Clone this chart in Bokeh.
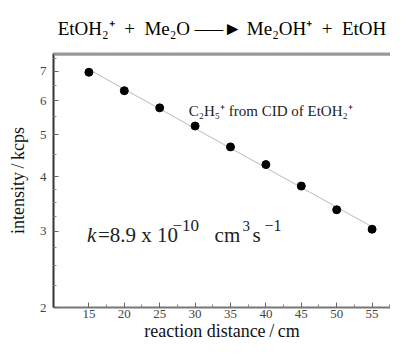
import numpy as np
from bokeh.plotting import figure
from bokeh.models import FixedTicker, BasicTickFormatter, Label, LinearAxis, Range1d, Span
from bokeh.embed import file_html
from bokeh.resources import INLINE

# data
distance_cm = [15, 20, 25, 30, 35, 40, 45, 50, 55]
intensity_kcps = [6.97, 6.32, 5.77, 5.24, 4.69, 4.27, 3.81, 3.36, 3.03]

x_major = [15, 20, 25, 30, 35, 40, 45, 50, 55]
x_minor = [17.5, 22.5, 27.5, 32.5, 37.5, 42.5, 47.5, 52.5, 57.5]
y_major = [2, 3, 4, 5, 6, 7]
y_minor = [2.25, 2.5, 2.75, 3.25, 3.5, 3.75, 4.5, 5.5, 6.5, 7.5]

x_lo, x_hi = 10, 57.6
y_lo, y_hi = 2, 7.7

NB = "\u00a0"
GAP = NB * 2
title_text = ("EtOH\u2082\u207A" + GAP + "+" + GAP + "Me\u2082O" + NB +
              "\u2014\u2013\u25BA" + NB + "Me\u2082OH\u207A" + GAP + "+" + GAP + "EtOH")
note_text = "C\u2082H\u2085\u207A from CID of EtOH\u2082\u207A"

# rate-constant text pieces: (text, x in cm, raised?, size, style)
k_y = 2.94
k_pieces = [
    ("k", 14.72, False, "21px", "italic"),
    ("=8.9 x 10", 16.27, False, "21px", "normal"),
    ("\u221210", 26.8, True, "17px", "normal"),
    ("cm", 32.75, False, "21px", "normal"),
    ("3", 36.7, True, "15px", "normal"),
    ("s", 38.1, False, "21px", "normal"),
    ("\u22121", 39.8, True, "16px", "normal"),
]

SERIF = "Liberation Serif"

p = figure(width=390, height=343, y_axis_type="log",
           x_range=Range1d(x_lo, x_hi), y_range=Range1d(y_lo, y_hi),
           output_backend="svg", toolbar_location=None,
           min_border_left=53, min_border_right=0,
           min_border_top=53, min_border_bottom=31,
           title=title_text)
p.title.align = "center"
p.title.offset = 3
p.title.text_font = SERIF
p.title.text_font_size = "19px"
p.title.text_font_style = "normal"
p.title.text_color = "black"
p.title.standoff = 30

p.grid.visible = False
p.outline_line_color = None
p.background_fill_color = "white"
p.border_fill_color = "white"

xax = p.below[0]
yax = p.left[0]

# top border: a bare axis line plus a span just inside the frame
top_axis = LinearAxis(axis_line_color="#999999", axis_line_width=2,
                      major_tick_line_color=None, minor_tick_line_color=None,
                      major_label_text_font_size="0px", major_label_standoff=0,
                      major_tick_out=0, major_tick_in=0)
top_axis.ticker = FixedTicker(ticks=[])
p.add_layout(top_axis, "above")
p.add_layout(Span(location=y_hi / 10 ** (1.2 / 445), dimension="width",
                  line_color="#999999", line_width=2))

# fitted line (log-linear least squares)
slope, intercept = np.polyfit(np.array(distance_cm, float), np.log10(intensity_kcps), 1)
fx = np.array([distance_cm[0], distance_cm[-1]], float)
fy = 10 ** (intercept + slope * fx)
p.line(fx, fy, line_color="#bbbbbb", line_width=1)

p.scatter(distance_cm, intensity_kcps, size=8, color="black")

# axes
for ax in (xax, yax):
    ax.major_tick_in = 5
    ax.major_tick_out = 0
    ax.minor_tick_in = 3
    ax.minor_tick_out = 0
    ax.major_label_text_font = SERIF
    ax.major_label_text_font_size = "13px"
    ax.major_label_text_color = "#444444"
    ax.axis_label_text_font = SERIF
    ax.axis_label_text_font_size = "18px"
    ax.axis_label_text_font_style = "normal"
    ax.axis_label_text_color = "#111111"
    ax.major_tick_line_color = "#666666"
    ax.minor_tick_line_color = "#888888"
    ax.formatter = BasicTickFormatter()

xax.ticker = FixedTicker(ticks=x_major, minor_ticks=x_minor)
yax.ticker = FixedTicker(ticks=y_major, minor_ticks=y_minor)
xax.axis_line_color = "#777777"
xax.axis_line_width = 2
yax.axis_line_color = "#333333"
yax.axis_line_width = 2
xax.major_label_standoff = 2
yax.major_label_standoff = 7
xax.axis_label = "reaction distance\u2009/\u2009cm"
yax.axis_label = "intensity\u2009/\u2009kcps"
xax.axis_label_standoff = 0
yax.axis_label_standoff = 9

# annotations
p.add_layout(Label(x=29.1, y=5.66, text=note_text, text_font=SERIF,
                   text_font_size="15px", text_color="#222222",
                   text_baseline="middle"))

for txt, kx, raised, fs, st in k_pieces:
    p.add_layout(Label(x=kx, y=k_y, y_offset=9 if raised else 0, text=txt,
                       text_font=SERIF, text_font_size=fs, text_font_style=st,
                       text_color="#222222", text_baseline="alphabetic"))

open("out.html", "w").write(file_html(p, INLINE))
